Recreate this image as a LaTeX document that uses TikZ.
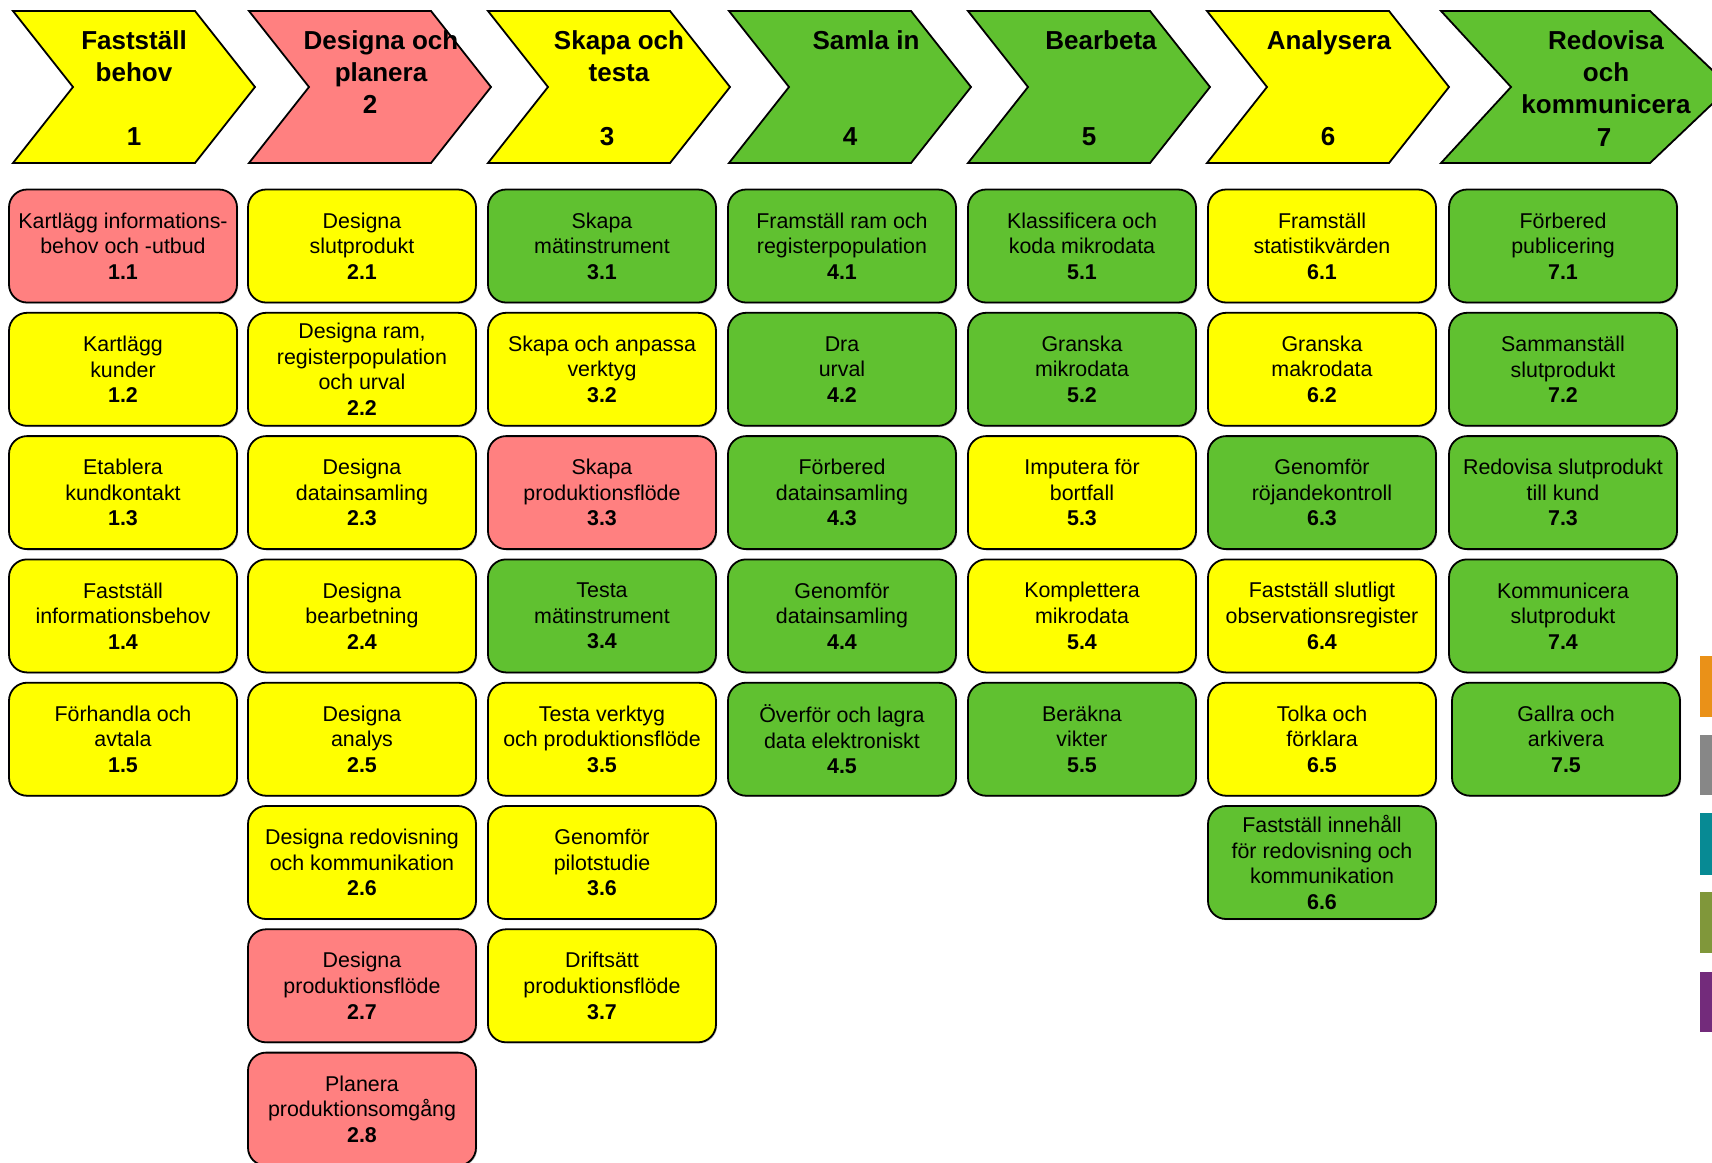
\documentclass[tikz,border=0pt]{standalone}
\usepackage{fontspec}
\setmainfont{Liberation Sans}
\usetikzlibrary{positioning,shadows}
\definecolor{scbyellow}{RGB}{255,255,0}
\definecolor{scbpink}{RGB}{255,128,128}
\definecolor{scbgreen}{RGB}{96,193,48}
\definecolor{scborange}{RGB}{234,145,24}
\definecolor{scbgrey}{RGB}{135,135,135}
\definecolor{scbteal}{RGB}{7,138,148}
\definecolor{scbolive}{RGB}{128,151,58}
\definecolor{scbpurple}{RGB}{115,43,123}

\begin{document}
\begin{tikzpicture}[x=0.5pt, y=-0.5pt, node distance=61.65pt,
    phase/.style={draw, line width=0.9pt, line join=miter},
    phasetitle/.style={anchor=north, align=center, inner sep=0pt, font=\fontsize{13}{16}\selectfont\bfseries},
    phasenum/.style={anchor=base, inner sep=0pt, font=\fontsize{13}{16}\selectfont\bfseries},
    subprocess/.style={rectangle, draw, line width=0.9pt, rounded corners=9pt, minimum width=114pt, minimum height=56.5pt, align=center, inner sep=0pt, font=\fontsize{10.7}{12.8}\selectfont, drop shadow={shadow xshift=0.6pt, shadow yshift=-0.6pt, fill=black!45}},
    ybox/.style={subprocess, fill=scbyellow},
    pbox/.style={subprocess, fill=scbpink},
    gbox/.style={subprocess, fill=scbgreen}]
    \clip (0,0) rectangle (1712,1162);

    \draw [phase, fill=scbyellow] (13,11) -- ++(182,0) -- ++(60,76) -- ++(-60,76) -- ++(-182,0) -- ++(60,-76) -- cycle;
    \draw [phase, fill=scbpink] (249,11) -- ++(182,0) -- ++(60,76) -- ++(-60,76) -- ++(-182,0) -- ++(60,-76) -- cycle;
    \draw [phase, fill=scbyellow] (488,11) -- ++(182,0) -- ++(60,76) -- ++(-60,76) -- ++(-182,0) -- ++(60,-76) -- cycle;
    \draw [phase, fill=scbgreen] (729,11) -- ++(182,0) -- ++(60,76) -- ++(-60,76) -- ++(-182,0) -- ++(60,-76) -- cycle;
    \draw [phase, fill=scbgreen] (968,11) -- ++(182,0) -- ++(60,76) -- ++(-60,76) -- ++(-182,0) -- ++(60,-76) -- cycle;
    \draw [phase, fill=scbyellow] (1207,11) -- ++(182,0) -- ++(60,76) -- ++(-60,76) -- ++(-182,0) -- ++(60,-76) -- cycle;
    \draw [phase, fill=scbgreen] (1441,11) -- ++(209,0) -- ++(80,76) -- ++(-80,76) -- ++(-209,0) -- ++(70,-76) -- cycle;

    \node [phasetitle] (t1) at (134,30) {Fastställ\\behov};
    \node [phasenum] (n1) at (134,145) {1};
    \node [phasetitle] (t2) at (381,30) {Designa och\\planera};
    \node [phasenum] (n2) at (370,113) {2};
    \node [phasetitle] (t3) at (619,30) {Skapa och\\testa};
    \node [phasenum] (n3) at (607,145) {3};
    \node [phasetitle] (t4) at (866,30) {Samla in};
    \node [phasenum] (n4) at (850,145) {4};
    \node [phasetitle] (t5) at (1101,30) {Bearbeta};
    \node [phasenum] (n5) at (1089,145) {5};
    \node [phasetitle] (t6) at (1329,30) {Analysera};
    \node [phasenum] (n6) at (1328,145) {6};
    \node [phasetitle] (t7) at (1606,30) {Redovisa\\och\\kommunicera};
    \node [phasenum] (n7) at (1604,146) {7};

    \node [pbox] (b11) at (123,246) {Kartlägg informations-\\behov och -utbud\\\textbf{1.1}};
    \node [ybox, below of=b11] (b12) {Kartlägg\\kunder\\\textbf{1.2}};
    \node [ybox, below of=b12] (b13) {Etablera\\kundkontakt\\\textbf{1.3}};
    \node [ybox, below of=b13] (b14) {Fastställ\\informationsbehov\\\textbf{1.4}};
    \node [ybox, below of=b14] (b15) {Förhandla och\\avtala\\\textbf{1.5}};

    \node [ybox] (b21) at (362,246) {Designa\\slutprodukt\\\textbf{2.1}};
    \node [ybox, below of=b21] (b22) {Designa ram,\\registerpopulation\\och urval\\\textbf{2.2}};
    \node [ybox, below of=b22] (b23) {Designa\\datainsamling\\\textbf{2.3}};
    \node [ybox, below of=b23] (b24) {Designa\\bearbetning\\\textbf{2.4}};
    \node [ybox, below of=b24] (b25) {Designa\\analys\\\textbf{2.5}};
    \node [ybox, below of=b25] (b26) {Designa redovisning\\och kommunikation\\\textbf{2.6}};
    \node [pbox, below of=b26] (b27) {Designa\\produktionsflöde\\\textbf{2.7}};
    \node [pbox, below of=b27] (b28) {Planera\\produktionsomgång\\\textbf{2.8}};

    \node [gbox] (b31) at (602,246) {Skapa\\mätinstrument\\\textbf{3.1}};
    \node [ybox, below of=b31] (b32) {Skapa och anpassa\\verktyg\\\textbf{3.2}};
    \node [pbox, below of=b32] (b33) {Skapa\\produktionsflöde\\\textbf{3.3}};
    \node [gbox, below of=b33] (b34) {Testa\\mätinstrument\\\textbf{3.4}};
    \node [ybox, below of=b34] (b35) {Testa verktyg\\och produktionsflöde\\\textbf{3.5}};
    \node [ybox, below of=b35] (b36) {Genomför\\pilotstudie\\\textbf{3.6}};
    \node [ybox, below of=b36] (b37) {Driftsätt\\produktionsflöde\\\textbf{3.7}};

    \node [gbox] (b41) at (842,246) {Framställ ram och\\registerpopulation\\\textbf{4.1}};
    \node [gbox, below of=b41] (b42) {Dra\\urval\\\textbf{4.2}};
    \node [gbox, below of=b42] (b43) {Förbered\\datainsamling\\\textbf{4.3}};
    \node [gbox, below of=b43] (b44) {Genomför\\datainsamling\\\textbf{4.4}};
    \node [gbox, below of=b44] (b45) {Överför och lagra\\data elektroniskt\\\textbf{4.5}};

    \node [gbox] (b51) at (1082,246) {Klassificera och\\koda mikrodata\\\textbf{5.1}};
    \node [gbox, below of=b51] (b52) {Granska\\mikrodata\\\textbf{5.2}};
    \node [ybox, below of=b52] (b53) {Imputera för\\bortfall\\\textbf{5.3}};
    \node [ybox, below of=b53] (b54) {Komplettera\\mikrodata\\\textbf{5.4}};
    \node [gbox, below of=b54] (b55) {Beräkna\\vikter\\\textbf{5.5}};

    \node [ybox] (b61) at (1322,246) {Framställ\\statistikvärden\\\textbf{6.1}};
    \node [ybox, below of=b61] (b62) {Granska\\makrodata\\\textbf{6.2}};
    \node [gbox, below of=b62] (b63) {Genomför\\röjandekontroll\\\textbf{6.3}};
    \node [ybox, below of=b63] (b64) {Fastställ slutligt\\observationsregister\\\textbf{6.4}};
    \node [ybox, below of=b64] (b65) {Tolka och\\förklara\\\textbf{6.5}};
    \node [gbox, below of=b65] (b66) {Fastställ innehåll\\för redovisning och\\kommunikation\\\textbf{6.6}};

    \node [gbox] (b71) at (1563,246) {Förbered\\publicering\\\textbf{7.1}};
    \node [gbox, below of=b71] (b72) {Sammanställ\\slutprodukt\\\textbf{7.2}};
    \node [gbox, below of=b72] (b73) {Redovisa slutprodukt\\till kund\\\textbf{7.3}};
    \node [gbox, below of=b73] (b74) {Kommunicera\\slutprodukt\\\textbf{7.4}};
    \node [gbox, below of=b74, xshift=1.5pt] (b75) {Gallra och\\arkivera\\\textbf{7.5}};

    \fill [scborange] (1700,656) rectangle (1712,717);
    \fill [scbgrey] (1700,735) rectangle (1712,795);
    \fill [scbteal] (1700,813) rectangle (1712,875);
    \fill [scbolive] (1700,892) rectangle (1712,953);
    \fill [scbpurple] (1700,972) rectangle (1712,1032);
\end{tikzpicture}
\end{document}
